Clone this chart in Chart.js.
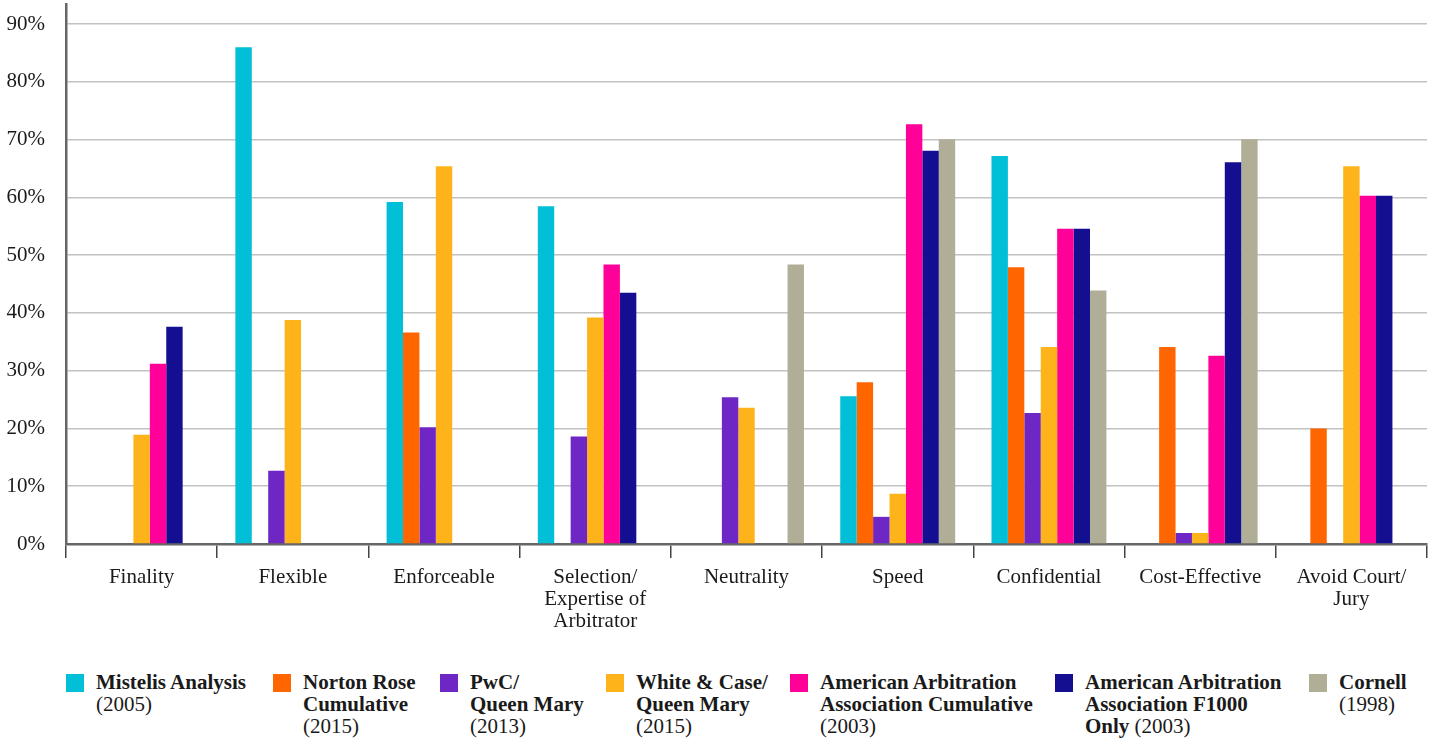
<!DOCTYPE html>
<html lang="en">
<head>
    <meta charset="UTF-8">
    <title>Reasons for choosing arbitration</title>
    <script src="https://cdn.jsdelivr.net/npm/chart.js"></script>
    <style>
        body {
            margin: 0;
            background: #fff;
            font-family: "Liberation Serif", "DejaVu Serif", serif;
            color: #1a1a1a;
        }
        #wrap {
            position: relative;
            width: 1433px;
            height: 740px;
        }
        #chartBox {
            position: absolute;
            left: 0;
            top: 0;
            width: 1433px;
            height: 640px;
        }
        .lg-item {
            position: absolute;
            top: 671px;
            font-size: 21px;
            line-height: 22px;
            white-space: nowrap;
        }
        .lg-box {
            position: absolute;
            left: 0;
            top: 3px;
            width: 18px;
            height: 18px;
        }
        .lg-text {
            margin-left: 30px;
        }
    </style>
</head>
<body>
<div id="wrap">
    <div id="chartBox"><canvas id="arbChart"></canvas></div>
    <div id="legend"></div>
</div>
<script>
    // categories (multi-line labels)
    const categories = [
        'Finality',
        'Flexible',
        'Enforceable',
        ['Selection/', 'Expertise of', 'Arbitrator'],
        'Neutrality',
        'Speed',
        'Confidential',
        'Cost-Effective',
        ['Avoid Court/', 'Jury']
    ];

    // series values in %, null = no data
    const mistelis   = [null, 86.0, 59.2, 58.5, null, 25.6, 67.2, null, null];
    const nortonRose = [null, null, 36.6, null, null, 28.0, 47.9, 34.1, 20.0];
    const pwcQM      = [null, 12.7, 20.2, 18.6, 25.4, 4.7, 22.7, 1.9, null];
    const whiteCase  = [18.9, 38.8, 65.4, 39.2, 23.6, 8.7, 34.1, 1.9, 65.4];
    const aaaCumul   = [31.2, null, null, 48.4, null, 72.7, 54.6, 32.6, 60.3];
    const aaaF1000   = [37.6, null, null, 43.5, null, 68.1, 54.6, 66.1, 60.3];
    const cornell    = [null, null, null, null, 48.4, 70.1, 43.9, 70.1, null];

    const seriesNames = [
        'Mistelis Analysis',
        'Norton Rose\nCumulative',
        'PwC/\nQueen Mary',
        'White & Case/\nQueen Mary',
        'American Arbitration\nAssociation Cumulative',
        'American Arbitration\nAssociation F1000\nOnly',
        'Cornell'
    ];
    const seriesYears = ['(2005)', '(2015)', '(2013)', '(2015)', '(2003)', '(2003)', '(1998)'];
    const yearOnNewLine = [true, true, true, true, true, false, true];

    const colors = ['#00bfd6', '#ff6600', '#6e27c5', '#ffb31a', '#ff0099', '#140f91', '#b0ae96'];
    const legendX = [66, 273, 440, 606, 790, 1055, 1309];

    const allSeries = [mistelis, nortonRose, pwcQM, whiteCase, aaaCumul, aaaF1000, cornell];

    const datasets = allSeries.map((vals, i) => ({
        label: seriesNames[i].replace(/\n/g, ' ') + ' ' + seriesYears[i],
        data: vals,
        backgroundColor: colors[i],
        borderWidth: 0
    }));

    const ctx = document.getElementById('arbChart').getContext('2d');
    const arbChart = new Chart(ctx, {
        type: 'bar',
        data: { labels: categories, datasets: datasets },
        options: {
            responsive: true,
            maintainAspectRatio: false,
            animation: false,
            layout: { padding: { top: 4, right: 6, left: 0, bottom: 0 } },
            datasets: {
                bar: { categoryPercentage: 0.76, barPercentage: 1.0 }
            },
            plugins: {
                legend: { display: false },
                tooltip: {
                    callbacks: { label: c => c.dataset.label + ': ' + c.parsed.y + '%' }
                }
            },
            scales: {
                x: {
                    grid: {
                        offset: true,
                        drawOnChartArea: false,
                        tickLength: 14,
                        lineWidth: 1.5,
                        color: c => c.index === categories.length ? 'rgba(0,0,0,0)' : '#444'
                    },
                    border: { color: '#666', width: 2.5 },
                    ticks: {
                        color: '#1a1a1a',
                        padding: 8,
                        maxRotation: 0,
                        autoSkip: false,
                        font: { family: '"Liberation Serif", serif', size: 21, lineHeight: 22 / 21 }
                    }
                },
                y: {
                    min: 0,
                    max: 93.5,
                    afterFit: s => {
                        s.width = 66;
                        s.paddingTop = 0;
                        s.paddingBottom = 0;
                    },
                    grid: {
                        color: '#c2c2c2',
                        lineWidth: 1.5,
                        drawTicks: false
                    },
                    border: { color: '#666', width: 2.5 },
                    ticks: {
                        stepSize: 10,
                        includeBounds: false,
                        padding: 21,
                        color: '#1a1a1a',
                        callback: v => v + '%',
                        font: { family: '"Liberation Serif", serif', size: 21 }
                    }
                }
            }
        }
    });

    // custom legend (bold names with normal-weight years)
    const legendEl = document.getElementById('legend');
    seriesNames.forEach((name, i) => {
        const item = document.createElement('div');
        item.className = 'lg-item';
        item.style.left = legendX[i] + 'px';
        const box = document.createElement('span');
        box.className = 'lg-box';
        box.style.background = colors[i];
        const text = document.createElement('div');
        text.className = 'lg-text';
        const boldPart = name.split('\n').map(l => '<b>' + l.replace('&', '&amp;') + '</b>').join('<br>');
        text.innerHTML = boldPart + (yearOnNewLine[i] ? '<br>' : ' ') + seriesYears[i];
        item.appendChild(box);
        item.appendChild(text);
        legendEl.appendChild(item);
    });
</script>
</body>
</html>
